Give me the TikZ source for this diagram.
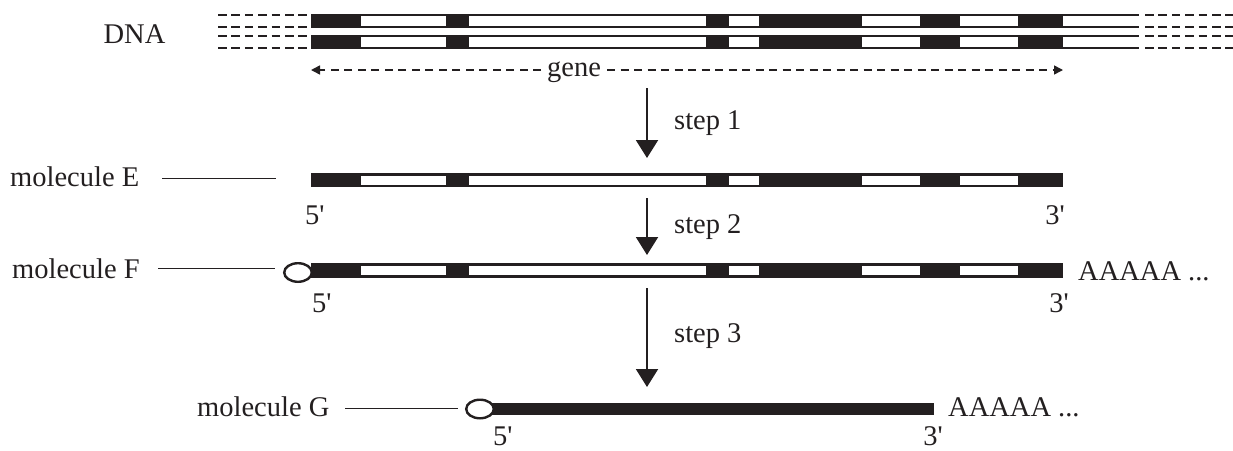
\documentclass[tikz,border=0pt]{standalone}
\usepackage{fontspec}
\setmainfont{Liberation Serif}
\usetikzlibrary{arrows.meta}
\definecolor{ink}{RGB}{35,31,32}

% exon/intron strip: solid bar with hollow segments
\newcommand{\exonstrip}[2]{%
  \fill[ink] (311,#1) rectangle (1063,#2);
  \foreach \a/\b in {361/446,469/706,729/759,862/920,960/1018}
    \fill[white] (\a,#1+2.4) rectangle (\b,#2-2.4);
}
\newcommand{\fivep}{5\textquotesingle}
\newcommand{\threep}{3\textquotesingle}

\begin{document}
\begin{tikzpicture}[x=1pt,y=-1pt,
  lbl/.style={font=\fontsize{28.5}{34}\selectfont, inner sep=0pt, text=ink},
  pointer/.style={draw=ink, line width=0.9pt},
  steparrow/.style={draw=ink, line width=2pt, -{Triangle[width=22pt,length=18pt]}},
  genearrow/.style={draw=ink, line width=1.5pt, dash pattern=on 8pt off 5.5pt, -{Triangle[width=9pt,length=9pt]}},
  capshape/.style={draw=ink, line width=2.4pt, fill=white},
  flank/.style={draw=ink, line width=2.4pt, dash pattern=on 8.5pt off 4.9pt},
  strandedge/.style={draw=ink, line width=2.4pt}]
\useasboundingbox (0,0) rectangle (1233,450);

% ---------- DNA double strand ----------
\exonstrip{14}{28.3}
\exonstrip{35}{49.3}
\foreach \y in {15.2,27.1,36.2,48.1}{
  \draw[strandedge] (1063,\y) -- (1139,\y);
  \draw[flank] (218,\y) -- (310,\y);
  \draw[flank] (1145,\y) -- (1240,\y);
}
\node[lbl, anchor=base] (dna) at (134.5,43.5) {DNA};

% gene extent
\node[lbl, anchor=base west] (gene) at (547,76.5) {gene};
\coordinate (gL) at (311,70);
\coordinate (gR) at (1063,70);
\draw[genearrow] (gene.west |- gL) ++(-6,0) -- (gL);
\draw[genearrow] (gene.east |- gR) ++(6,0) -- (gR);

% ---------- step arrows ----------
\coordinate (s1a) at (647,88);  \coordinate (s1b) at (647,158);
\coordinate (s2a) at (647,198); \coordinate (s2b) at (647,255);
\coordinate (s3a) at (647,288); \coordinate (s3b) at (647,387);
\draw[steparrow] (s1a) -- (s1b);
\draw[steparrow] (s2a) -- (s2b);
\draw[steparrow] (s3a) -- (s3b);
\node[lbl, anchor=base west] (step1) at (674,129) {step 1};
\node[lbl, anchor=base west] (step2) at (674,233) {step 2};
\node[lbl, anchor=base west] (step3) at (674,342) {step 3};

% ---------- molecule E ----------
\exonstrip{173.3}{187}
\node[lbl, anchor=base west] (molE) at (10,186.5) {molecule E};
\coordinate (eA) at (162,178); \coordinate (eB) at (276,178);
\draw[pointer] (eA) -- (eB);
\node[lbl, anchor=base west] (e5) at (305,224) {\fivep};
\node[lbl, anchor=base east] (e3) at (1065,224) {\threep};

% ---------- molecule F ----------
\exonstrip{263.3}{277.7}
\draw[capshape] (298,272.5) ellipse [x radius=13.8, y radius=9.3];
\node[lbl, anchor=base west] (molF) at (12,278) {molecule F};
\coordinate (fA) at (158,268); \coordinate (fB) at (275,268);
\draw[pointer] (fA) -- (fB);
\node[lbl, anchor=base west] (f5) at (312,312) {\fivep};
\node[lbl, anchor=base east] (f3) at (1069,312) {\threep};
\node[lbl, anchor=base west] (polyF) at (1078,280) {AAAAA ...};

% ---------- molecule G ----------
\fill[ink] (490,403.3) rectangle (934,415);
\draw[capshape] (480,409) ellipse [x radius=13.8, y radius=9.3];
\node[lbl, anchor=base west] (molG) at (197,416) {molecule G};
\coordinate (gA) at (345,408); \coordinate (gB) at (458,408);
\draw[pointer] (gA) -- (gB);
\node[lbl, anchor=base west] (g5) at (493,445) {\fivep};
\node[lbl, anchor=base east] (g3) at (943,445) {\threep};
\node[lbl, anchor=base west] (polyG) at (948,416) {AAAAA ...};
\end{tikzpicture}
\end{document}
